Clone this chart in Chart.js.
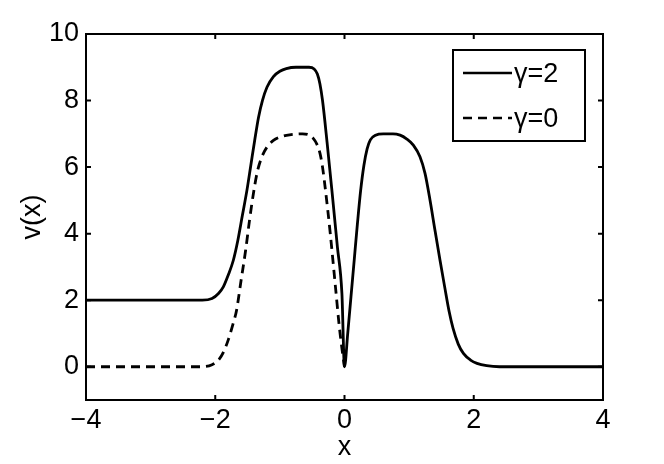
<!DOCTYPE html>
<html>
<head>
<meta charset="utf-8">
<script src="https://cdn.jsdelivr.net/npm/chart.js@4.4.0/dist/chart.umd.min.js"></script>
<style>
  html, body { margin: 0; padding: 0; background: #fff; }
</style>
</head>
<body>
<canvas id="vChart" width="664" height="464"></canvas>
<script>
// gamma = 2 (solid)
const xG2 = [-4, -3, -2.2, -2.05, -1.95, -1.875, -1.8, -1.72, -1.65, -1.58, -1.51, -1.45, -1.39, -1.33, -1.27, -1.2, -1.1, -1.0, -0.9, -0.75, -0.55, -0.47, -0.42, -0.38, -0.34, -0.27, -0.19, -0.11, -0.04, 0,
             0.05, 0.1, 0.15, 0.2, 0.25, 0.3, 0.35, 0.4, 0.48, 0.6, 0.75, 0.86, 0.96, 1.065, 1.168, 1.246, 1.323, 1.4, 1.478, 1.55, 1.62, 1.68, 1.76, 1.84, 1.95, 2.05, 2.2, 2.4, 4];
const yG2 = [2, 2, 2, 2.05, 2.2, 2.4, 2.75, 3.2, 3.8, 4.55, 5.3, 6.05, 6.8, 7.5, 8.0, 8.4, 8.72, 8.88, 8.96, 9.0, 9.0, 8.95, 8.8, 8.5, 8.0, 6.75, 5.2, 3.6, 2.2, 0,
             1.0, 2.1, 3.2, 4.3, 5.3, 6.05, 6.55, 6.82, 6.96, 7.0, 7.0, 6.96, 6.85, 6.66, 6.31, 5.81, 5.01, 4.1, 3.2, 2.4, 1.65, 1.15, 0.68, 0.4, 0.2, 0.1, 0.03, 0, 0];
// gamma = 0 (dashed)
const xG0 = [-4, -3, -2.2, -2.05, -1.95, -1.87, -1.8, -1.73, -1.67, -1.6, -1.53, -1.47, -1.41, -1.35, -1.28, -1.2, -1.1, -1.0, -0.85, -0.65, -0.55, -0.49, -0.43, -0.38, -0.34, -0.3, -0.22, -0.14, -0.08, -0.03, 0];
const yG0 = [0, 0, 0, 0.06, 0.2, 0.45, 0.8, 1.25, 1.7, 2.6, 3.5, 4.4, 5.2, 5.85, 6.3, 6.6, 6.8, 6.9, 6.97, 7.0, 6.97, 6.88, 6.7, 6.42, 6.0, 5.4, 4.0, 2.4, 1.2, 0.4, 0];

const seriesNames = ['\u03b3=2', '\u03b3=0'];
const xTicks = [-4, -2, 0, 2, 4];
const yTicks = [0, 2, 4, 6, 8, 10];

const pts = (xs, ys) => xs.map((x, i) => ({ x: x, y: ys[i] }));
const minus = v => String(v).replace('-', '\u2212');
const FONT = '"Liberation Sans", Arial, sans-serif';

Chart.defaults.font.family = FONT;
Chart.defaults.font.size = 27;
Chart.defaults.color = '#000';

// matlab style box with inward ticks, plus the boxed legend
const boxPlugin = {
  id: 'boxPlugin',
  afterDatasetsDraw(chart) {
    const { ctx, chartArea: a, scales: { x, y } } = chart;
    ctx.save();
    ctx.strokeStyle = '#000';
    ctx.lineWidth = 2;
    ctx.strokeRect(a.left, a.top, a.right - a.left, a.bottom - a.top);
    ctx.beginPath();
    xTicks.forEach(v => {
      const px = x.getPixelForValue(v);
      ctx.moveTo(px, a.bottom); ctx.lineTo(px, a.bottom - 5);
      ctx.moveTo(px, a.top); ctx.lineTo(px, a.top + 5);
    });
    yTicks.forEach(v => {
      const py = y.getPixelForValue(v);
      ctx.moveTo(a.left, py); ctx.lineTo(a.left + 5, py);
      ctx.moveTo(a.right, py); ctx.lineTo(a.right - 5, py);
    });
    ctx.stroke();

    // legend
    const lx = 453, ly = 50, lw = 132, lh = 91;
    ctx.fillStyle = '#fff';
    ctx.fillRect(lx, ly, lw, lh);
    ctx.strokeRect(lx, ly, lw, lh);
    const rows = [ly + 23, ly + 68];
    chart.data.datasets.forEach((ds, i) => {
      ctx.beginPath();
      ctx.lineWidth = 2.5;
      ctx.setLineDash(ds.borderDash || []);
      ctx.moveTo(lx + 10, rows[i]);
      ctx.lineTo(lx + 59, rows[i]);
      ctx.stroke();
      ctx.setLineDash([]);
      ctx.fillStyle = '#000';
      ctx.font = '27px ' + FONT;
      ctx.textBaseline = 'middle';
      ctx.fillText(ds.label, lx + 61, rows[i] + 2);
    });
    ctx.restore();
  }
};

new Chart(document.getElementById('vChart'), {
  type: 'scatter',
  data: {
    datasets: [{
      label: seriesNames[0],
      data: pts(xG2, yG2),
      showLine: true,
      borderColor: '#000',
      borderWidth: 2.8,
      pointRadius: 0,
      cubicInterpolationMode: 'monotone'
    }, {
      label: seriesNames[1],
      data: pts(xG0, yG0),
      showLine: true,
      borderColor: '#000',
      borderWidth: 2.8,
      borderDash: [9, 6],
      pointRadius: 0,
      cubicInterpolationMode: 'monotone'
    }]
  },
  options: {
    responsive: false,
    animation: false,
    layout: { padding: { top: 34, right: 61, left: 0, bottom: 0 } },
    plugins: { legend: { display: false }, tooltip: { enabled: false } },
    scales: {
      x: {
        type: 'linear', min: -4, max: 4,
        afterBuildTicks: s => { s.ticks = xTicks.map(v => ({ value: v })); },
        afterFit: s => { s.height = 64; },
        ticks: { padding: 4, callback: minus, maxRotation: 0 },
        grid: { display: false, drawTicks: false },
        border: { display: false },
        title: { display: true, text: 'x', padding: { top: 0, bottom: 0 } }
      },
      y: {
        type: 'linear', min: -1, max: 10,
        afterBuildTicks: s => { s.ticks = yTicks.map(v => ({ value: v })); },
        afterFit: s => { s.width = 86; },
        ticks: { padding: 7, callback: minus },
        grid: { display: false, drawTicks: false },
        border: { display: false },
        title: { display: true, text: 'v(x)', padding: { top: 16, bottom: 0 } }
      }
    }
  },
  plugins: [boxPlugin]
});
</script>
</body>
</html>
